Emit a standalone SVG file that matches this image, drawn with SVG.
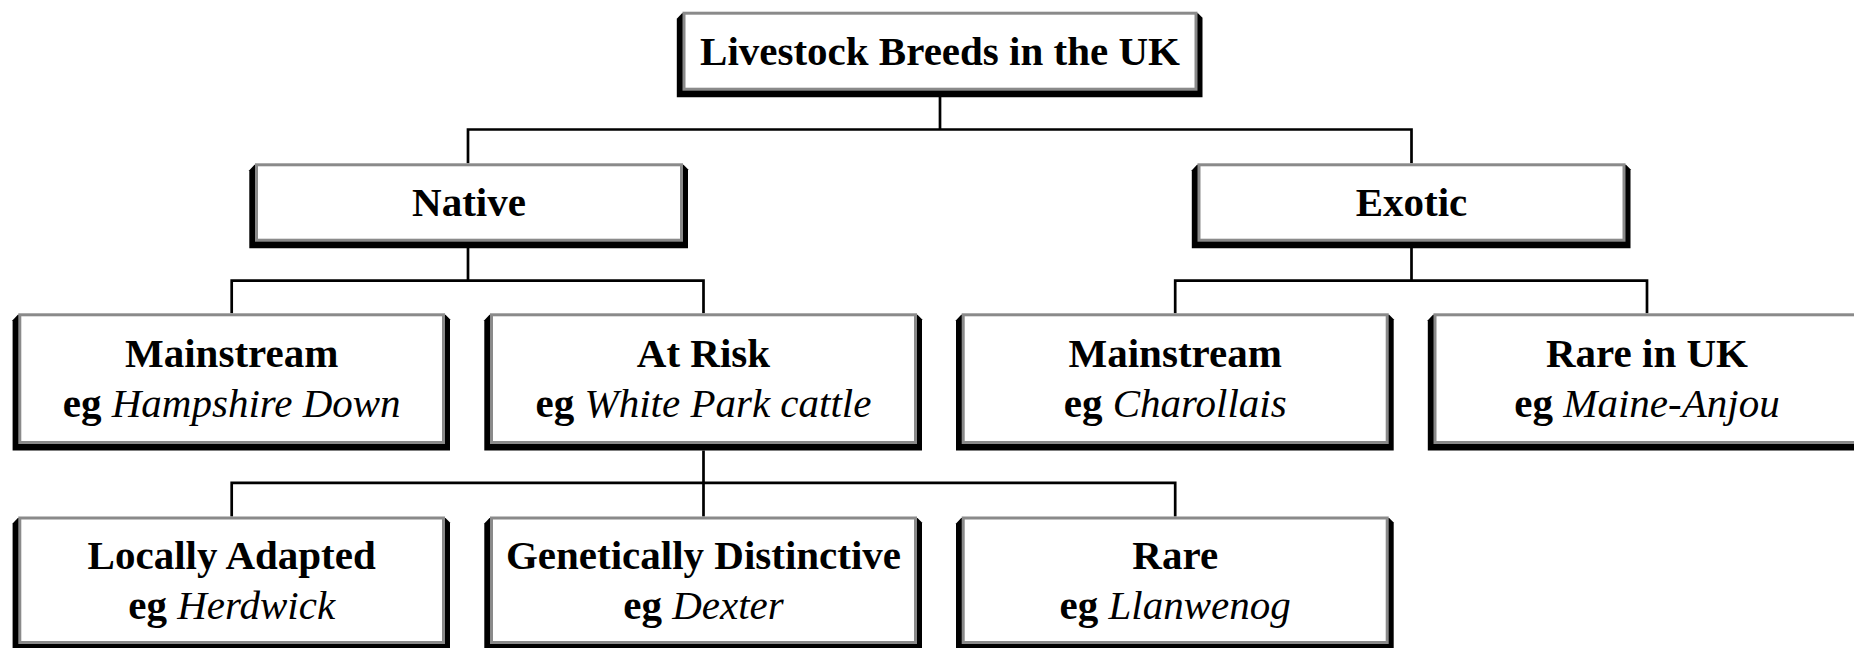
<svg xmlns="http://www.w3.org/2000/svg" width="1854" height="648" viewBox="0 0 1854 648">
<style>
.shadow{fill:#000}
.face{fill:#fff;stroke:#8a8a8a;stroke-width:3}
.conn{fill:none;stroke:#000;stroke-width:2.7;stroke-linejoin:miter}
.t{font-family:"Liberation Serif","Times New Roman",serif;font-size:41px;text-anchor:middle;fill:#000}
.b{font-weight:bold}
.i{font-style:italic;font-weight:normal}
</style>
<rect width="1854" height="648" fill="#fff"/>
<g id="connectors">
<path class="conn" d="M940,97 V129.5 M468,163.3 V129.5 H1411.5 V163.3"/>
<path class="conn" d="M468,248 V280.7 M231.7,313.3 V280.7 H703.5 V313.3"/>
<path class="conn" d="M1411.5,248 V280.7 M1175.2,313.3 V280.7 H1647 V313.3"/>
<path class="conn" d="M703.5,450.5 V482.8 M231.7,516.5 V482.8 H1175.2 V516.5 M703.5,482.8 V516.5"/>
</g>
<g id="root">
<polygon class="shadow" points="676.8,18.7 682,13.2 1198,13.2 1202.5,17.7 1202.5,97.2 676.8,97.2"/>
<rect class="face" x="684" y="13.2" width="512" height="76"/>
<text class="t b" x="940" y="64.5">Livestock Breeds in the UK</text>
</g>
<g id="native">
<polygon class="shadow" points="249.3,170.3 254.5,164.8 683.5,164.8 688,169.3 688,248.2 249.3,248.2"/>
<rect class="face" x="256.5" y="164.8" width="425" height="75.4"/>
<text class="t b" x="469" y="215.7">Native</text>
</g>
<g id="exotic">
<polygon class="shadow" points="1191.8,170.3 1197,164.8 1626,164.8 1630.5,169.3 1630.5,248.2 1191.8,248.2"/>
<rect class="face" x="1199" y="164.8" width="425" height="75.4"/>
<text class="t b" x="1411.5" y="215.7">Exotic</text>
</g>
<g id="native-mainstream">
<polygon class="shadow" points="12.6,320.3 17.8,314.8 445.5,314.8 450,319.3 450,450.5 12.6,450.5"/>
<rect class="face" x="19.8" y="314.8" width="423.7" height="127.7"/>
<text class="t b" x="231.7" y="366.7">Mainstream</text>
<text class="t" x="231.7" y="416.7"><tspan class="b">eg </tspan><tspan class="i">Hampshire Down</tspan></text>
</g>
<g id="at-risk">
<polygon class="shadow" points="484.3,320.3 489.5,314.8 917.5,314.8 922,319.3 922,450.5 484.3,450.5"/>
<rect class="face" x="491.5" y="314.8" width="424" height="127.7"/>
<text class="t b" x="703.5" y="366.7">At Risk</text>
<text class="t" x="703.5" y="416.7"><tspan class="b">eg </tspan><tspan class="i">White Park cattle</tspan></text>
</g>
<g id="exotic-mainstream">
<polygon class="shadow" points="956,320.3 961.2,314.8 1389.2,314.8 1393.7,319.3 1393.7,450.5 956,450.5"/>
<rect class="face" x="963.2" y="314.8" width="424" height="127.7"/>
<text class="t b" x="1175.2" y="366.7">Mainstream</text>
<text class="t" x="1175.2" y="416.7"><tspan class="b">eg </tspan><tspan class="i">Charollais</tspan></text>
</g>
<g id="rare-in-uk">
<polygon class="shadow" points="1427.8,320.3 1433,314.8 1861,314.8 1865.5,319.3 1865.5,450.5 1427.8,450.5"/>
<rect class="face" x="1435" y="314.8" width="424" height="127.7"/>
<text class="t b" x="1647" y="366.7">Rare in UK</text>
<text class="t" x="1647" y="416.7"><tspan class="b">eg </tspan><tspan class="i">Maine-Anjou</tspan></text>
</g>
<g id="locally-adapted">
<polygon class="shadow" points="12.6,523.5 17.8,518 445.5,518 450,522.5 450,650.5 12.6,650.5"/>
<rect class="face" x="19.8" y="518" width="423.7" height="124.5"/>
<text class="t b" x="231.7" y="569.3">Locally Adapted</text>
<text class="t" x="231.7" y="619.3"><tspan class="b">eg </tspan><tspan class="i">Herdwick</tspan></text>
</g>
<g id="genetically-distinctive">
<polygon class="shadow" points="484.3,523.5 489.5,518 917.5,518 922,522.5 922,650.5 484.3,650.5"/>
<rect class="face" x="491.5" y="518" width="424" height="124.5"/>
<text class="t b" x="703.5" y="569.3">Genetically Distinctive</text>
<text class="t" x="703.5" y="619.3"><tspan class="b">eg </tspan><tspan class="i">Dexter</tspan></text>
</g>
<g id="rare">
<polygon class="shadow" points="956,523.5 961.2,518 1389.2,518 1393.7,522.5 1393.7,650.5 956,650.5"/>
<rect class="face" x="963.2" y="518" width="424" height="124.5"/>
<text class="t b" x="1175.2" y="569.3">Rare</text>
<text class="t" x="1175.2" y="619.3"><tspan class="b">eg </tspan><tspan class="i">Llanwenog</tspan></text>
</g>
</svg>
